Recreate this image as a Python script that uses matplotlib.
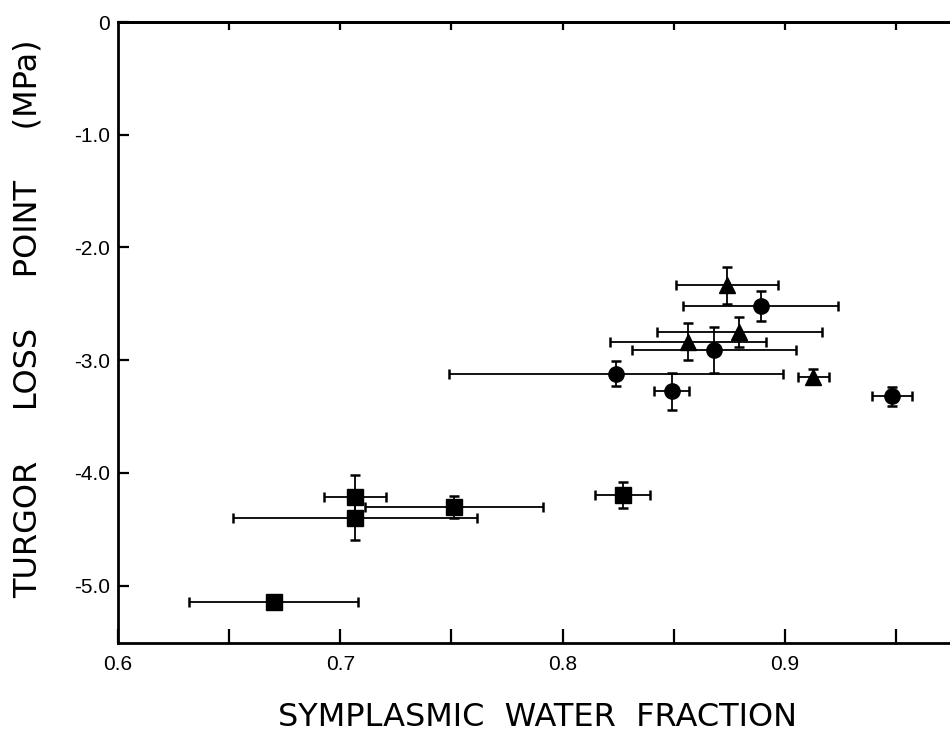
import numpy as np
import matplotlib
matplotlib.use("Agg")
import matplotlib.pyplot as plt
from matplotlib.ticker import MultipleLocator

plt.rcParams['font.family'] = ['Liberation Sans', 'DejaVu Sans']

# circles
circ_x = [0.889, 0.868, 0.824, 0.849, 0.948]
circ_y = [-2.52, -2.91, -3.12, -3.275, -3.32]
circ_xerr = [0.035, 0.037, 0.075, 0.008, 0.009]
circ_yerr = [0.13, 0.20, 0.113, 0.165, 0.083]

# triangles
tri_x = [0.874, 0.8565, 0.8795, 0.9128]
tri_y = [-2.335, -2.835, -2.752, -3.148]
tri_xerr = [0.023, 0.035, 0.037, 0.007]
tri_yerr = [0.165, 0.166, 0.135, 0.066]

# squares
sq_x = [0.7067, 0.7065, 0.751, 0.827, 0.670]
sq_y = [-4.215, -4.40, -4.305, -4.195, -5.15]
sq_xerr = [0.014, 0.055, 0.040, 0.0125, 0.038]
sq_yerr = [0.20, 0.20, 0.095, 0.113, 0.0]

xticks = [0.6, 0.7, 0.8, 0.9]
xtick_labels = ["0.6", "0.7", "0.8", "0.9"]
yticks = [0, -1, -2, -3, -4, -5]
ytick_labels = ["0", "-1.0", "-2.0", "-3.0", "-4.0", "-5.0"]

fig = plt.figure(figsize=(9.5, 7.37), dpi=100)
ax = fig.add_axes([118 / 950, 1 - 643 / 737, 832 / 950 + 0.003, (643 - 22) / 737])

ebkw = dict(linestyle='none', color='black', ecolor='black', elinewidth=1.3,
            capsize=3.5, capthick=1.8, zorder=3)
ax.errorbar(sq_x, sq_y, xerr=sq_xerr, yerr=sq_yerr, marker='s', markersize=11, **ebkw)
ax.errorbar(circ_x, circ_y, xerr=circ_xerr, yerr=circ_yerr, marker='o', markersize=11, **ebkw)
ax.errorbar(tri_x, tri_y, xerr=tri_xerr, yerr=tri_yerr, marker='^', markersize=12, **ebkw)

ax.set_xlim(0.6, 0.9755)
ax.set_ylim(-5.51, 0)

ax.set_xticks(xticks)
ax.set_xticklabels(xtick_labels)
ax.xaxis.set_minor_locator(MultipleLocator(0.05))
ax.set_yticks(yticks)
ax.set_yticklabels(ytick_labels)

ax.tick_params(axis='x', which='both', direction='in', length=10, width=1.6,
               labelsize=15, pad=9)
ax.tick_params(axis='y', which='both', direction='in', length=8, width=1.6,
               labelsize=15, pad=6)

# shorter ticks along the top
top = ax.secondary_xaxis('top')
top.set_xticks([0.65, 0.7, 0.75, 0.8, 0.85, 0.9, 0.95])
top.tick_params(direction='in', length=6, width=1.6, labeltop=False)
top.spines['top'].set_linewidth(2)

for s in ['left', 'bottom', 'top']:
    ax.spines[s].set_linewidth(2)
ax.spines['right'].set_visible(False)

fig.text(537 / 950, 1 - 718 / 737, "SYMPLASMIC  WATER  FRACTION", fontsize=23,
         ha='center', va='center', family='DejaVu Sans')
fig.text(28 / 950, 1 - 319 / 737, "TURGOR     LOSS     POINT     (MPa)", fontsize=23,
         ha='center', va='center', rotation=90, family='DejaVu Sans')

fig.savefig("out.png", dpi=100)
